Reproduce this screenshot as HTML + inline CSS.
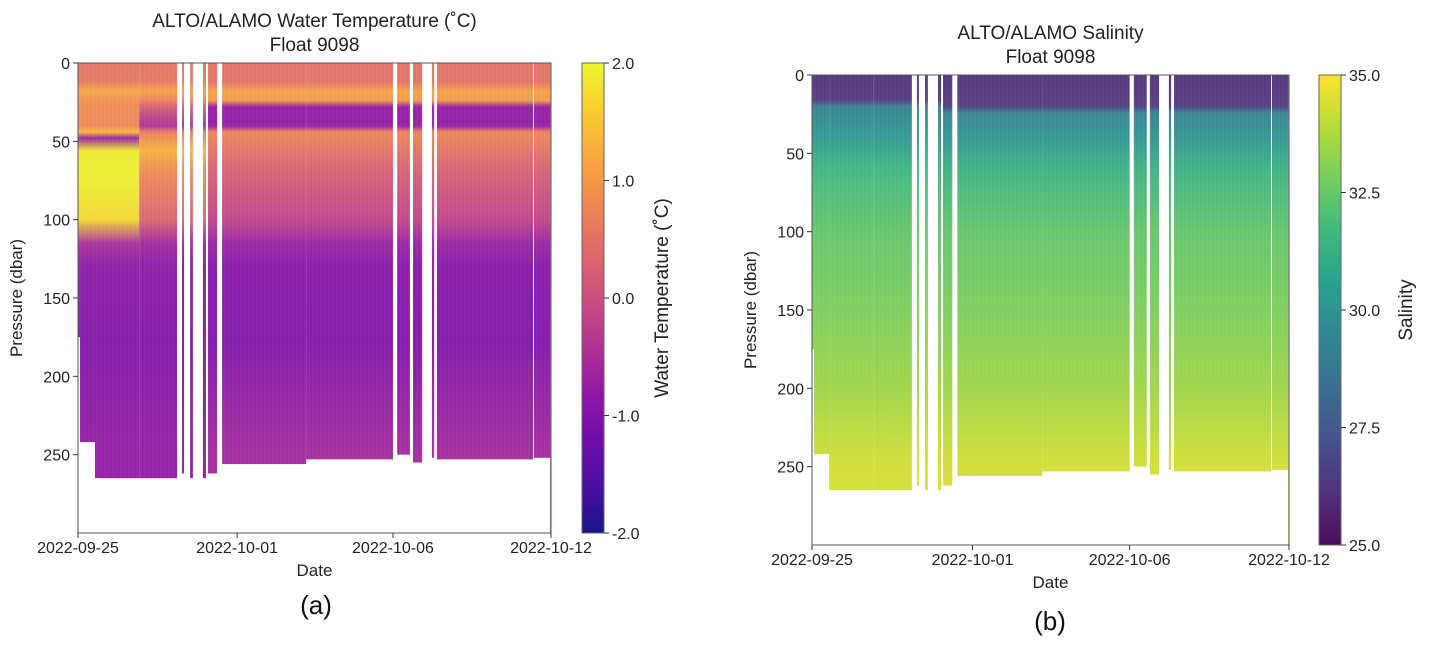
<!DOCTYPE html>
<html><head><meta charset="utf-8"><style>
body{margin:0;background:#fff;}
svg{display:block;font-family:"Liberation Sans","DejaVu Sans",sans-serif;}
</style></head><body>
<svg id="fig" width="1430" height="650" viewBox="0 0 1430 650" xmlns="http://www.w3.org/2000/svg">
<defs id="defs"></defs>
<g id="panelA"></g>
<g id="panelB"></g>
</svg>
<script>
// ---- data ----
// profile segments: start day, end day (days since 2022-09-25), bottom pressure (dbar), profile type (0 late,1 early,2 transition)
const segStart = [0,0.07,0.61,2.2,3.74,4.03,4.49,4.67,5.18,8.2,11.47,12.04,12.72,12.9,16.39,16.97];
const segEnd   = [0.07,0.61,2.2,3.56,3.81,4.13,4.6,5.0,8.2,11.32,11.93,12.37,12.8,16.36,16.97,17.0];
const segBottom= [175,242,265,265,262,265,265,262,256,253,250,255,252,253,252,300];
const segType  = [1,1,1,2,2,2,2,0,0,0,0,0,0,0,0,0];
// temperature profiles (deg C) at depth levels
const depthLevels = [0,12,18,24,28,40,44,48,56,70,100,115,130,180,250,300];
const tempEarly   = [0.5,0.6,1.2,0.9,0.8,0.8,1.4,-0.7,1.9,2.0,1.7,-0.5,-0.9,-1.0,-0.8,-0.8];
const tempMid     = [0.5,0.6,1.1,0.7,0.2,-0.5,0.6,0.9,1.3,0.8,0.3,-0.6,-0.9,-1.0,-0.8,-0.8];
const tempLate    = [0.5,0.5,1.1,1.0,-0.8,-0.8,0.7,0.7,0.5,0.2,-0.2,-0.7,-0.95,-1.0,-0.6,-0.6];
// salinity profiles
const salDepth = [0,16,20,24,40,60,100,150,200,250,300];
const salEarly = [26.0,26.2,29.0,29.4,30.2,31.6,32.4,32.9,33.5,34.4,34.6];
const salLate  = [26.0,26.2,26.4,29.2,30.0,31.4,32.4,32.9,33.5,34.4,34.6];
// axis ticks
const xTickDays = [0,5.72,11.32,17];
const xTickLabels = ["2022-09-25","2022-10-01","2022-10-06","2022-10-12"];
const yTicks = [0,50,100,150,200,250];
const tTicks = [2.0,1.0,0.0,-1.0,-2.0];
const tTickLabels = ["2.0","1.0","0.0","-1.0","-2.0"];
const sTicks = [35,32.5,30,27.5,25];
const sTickLabels = ["35.0","32.5","30.0","27.5","25.0"];

const plasma=["#0d0887","#41049d","#6a00a8","#8f0da4","#b12a90","#cc4778","#e16462","#f2844b","#fca636","#fcce25","#f0f921"];
const viridis=["#440154","#482878","#3e4989","#31688e","#26828e","#1f9e89","#35b779","#6ece58","#b5de2b","#fde725"];
function hex(h){return [1,3,5].map(i=>parseInt(h.substr(i,2),16));}
function cmap(stops,t,wash){t=Math.max(0,Math.min(1,t));const n=stops.length-1;const i=Math.min(n-1,Math.floor(t*n));const f=t*n-i;
 const a=hex(stops[i]),b=hex(stops[i+1]);return "rgb("+a.map((v,k)=>{let c=v+(b[k]-v)*f;c=c+(200-c)*(wash||0);return Math.round(c);}).join(",")+")";}

const NS="http://www.w3.org/2000/svg";
const defs=document.getElementById('defs');
function el(parent,tag,attrs,text){const e=document.createElementNS(NS,tag);for(const k in attrs)e.setAttribute(k,attrs[k]);if(text!==undefined)e.textContent=text;parent.appendChild(e);return e;}
let gid=0;
function gradient(stops,depths,vals,vmin,vmax,y,wash){
 const id="g"+(gid++);
 const g=el(defs,'linearGradient',{id:id,gradientUnits:"userSpaceOnUse",x1:0,x2:0,y1:y(0),y2:y(300)});
 depths.forEach((d,i)=>el(g,'stop',{offset:(d/300).toFixed(4),'stop-color':cmap(stops,(vals[i]-vmin)/(vmax-vmin),wash)}));
 return id;
}

function panel(root,o){
 const x=d=>o.x0+d/17*(o.x1-o.x0);
 const y=p=>o.y0+p/300*(o.y1-o.y0);
 const gids=o.profiles.map(p=>gradient(o.cm,o.depths,p,o.vmin,o.vmax,y,o.wash));
 const hm=el(root,'g',{});
 
 
 for(let i=0;i<segStart.length;i++){
  const r=el(hm,'rect',{x:x(segStart[i]),y:y(0),width:Math.max(1,x(segEnd[i])-x(segStart[i])),height:y(segBottom[i])-y(0),fill:"url(#"+gids[Math.min(segType[i],gids.length-1)]+")"});
  
  
 }
 for(let px=o.x0+3;px<o.x1;px+=4){el(hm,'line',{x1:px,x2:px,y1:o.y0,y2:o.y1,stroke:"#fff","stroke-opacity":0.07,"stroke-width":1});}
 el(root,'rect',{x:o.x0,y:o.y0,width:o.x1-o.x0,height:o.y1-o.y0,fill:"none",stroke:"#555","stroke-width":1});
 xTickDays.forEach((d,i)=>{
  el(root,'line',{x1:x(d),x2:x(d),y1:o.y1,y2:o.y1+5,stroke:"#333"});
  const t=el(root,'text',{x:x(d),y:o.y1+20,'text-anchor':'middle','font-size':16,fill:'#222'},xTickLabels[i]);
  
  
 });
 yTicks.forEach(p=>{
  el(root,'line',{x1:o.x0-5,x2:o.x0,y1:y(p),y2:y(p),stroke:"#333"});
  const t=el(root,'text',{x:o.x0-8,y:y(p)+6,'text-anchor':'end','font-size':16,fill:'#222'},String(p));
  
  
 });
 const xt=el(root,'text',{x:(o.x0+o.x1)/2,y:o.y1+43,'text-anchor':'middle','font-size':17,fill:'#222'},"Date");
 
 
 const yt=el(root,'text',{x:0,y:0,'text-anchor':'middle','font-size':17,fill:'#222',transform:`translate(${o.x0-56},${(o.y0+o.y1)/2}) rotate(-90)`},"Pressure (dbar)");
 
 
 const t1=el(root,'text',{x:(o.x0+o.x1)/2,y:o.y0-36,'text-anchor':'middle','font-size':19,fill:'#222'},o.title);
 
 
 const t2=el(root,'text',{x:(o.x0+o.x1)/2,y:o.y0-12,'text-anchor':'middle','font-size':19,fill:'#222'},"Float 9098");
 
 
 const cid="cb"+(gid++);
 const cg=el(defs,'linearGradient',{id:cid,x1:0,x2:0,y1:1,y2:0});
 o.cm.forEach((c,i)=>el(cg,'stop',{offset:i/(o.cm.length-1),'stop-color':cmap(o.cm,i/(o.cm.length-1),o.wash*0.5)}));
 const cb=el(root,'rect',{x:o.cbx,y:o.y0,width:o.cbw,height:o.y1-o.y0,fill:"url(#"+cid+")",stroke:"#666"});
 
 
 const cy=v=>o.y1-(v-o.vmin)/(o.vmax-o.vmin)*(o.y1-o.y0);
 o.cbTicks.forEach((v,i)=>{
  el(root,'line',{x1:o.cbx+o.cbw,x2:o.cbx+o.cbw+5,y1:cy(v),y2:cy(v),stroke:"#333"});
  const t=el(root,'text',{x:o.cbx+o.cbw+8,y:cy(v)+6,'font-size':16,fill:'#222'},o.cbLabels[i]);
  
  
 });
 const cl=el(root,'text',{x:0,y:0,'text-anchor':'middle','font-size':19,fill:'#222',transform:`translate(${o.cbLabX},${(o.y0+o.y1)/2}) rotate(-90)`},o.cbTitle);
 
 
 const pl=el(root,'text',{x:o.plx,y:o.ply,'text-anchor':'middle','font-size':26,fill:'#111'},o.pl);
 
 
}

panel(document.getElementById('panelA'),{x0:78,x1:551,y0:63,y1:533,cm:plasma,depths:depthLevels,profiles:[tempLate,tempEarly,tempMid],vmin:-2,vmax:2,wash:0.12,
 title:"ALTO/ALAMO Water Temperature (˚C)",cbx:582,cbw:22,cbTicks:tTicks,cbLabels:tTickLabels,cbTitle:"Water Temperature (˚C)",cbLabX:668,pl:"(a)",plx:316,ply:614});
panel(document.getElementById('panelB'),{x0:812,x1:1289,y0:75,y1:545,cm:viridis,depths:salDepth,profiles:[salLate,salEarly,salEarly],vmin:25,vmax:35,wash:0.12,
 title:"ALTO/ALAMO Salinity",cbx:1319,cbw:22,cbTicks:sTicks,cbLabels:sTickLabels,cbTitle:"Salinity",cbLabX:1412,pl:"(b)",plx:1050,ply:630});
</script>
</body></html>
